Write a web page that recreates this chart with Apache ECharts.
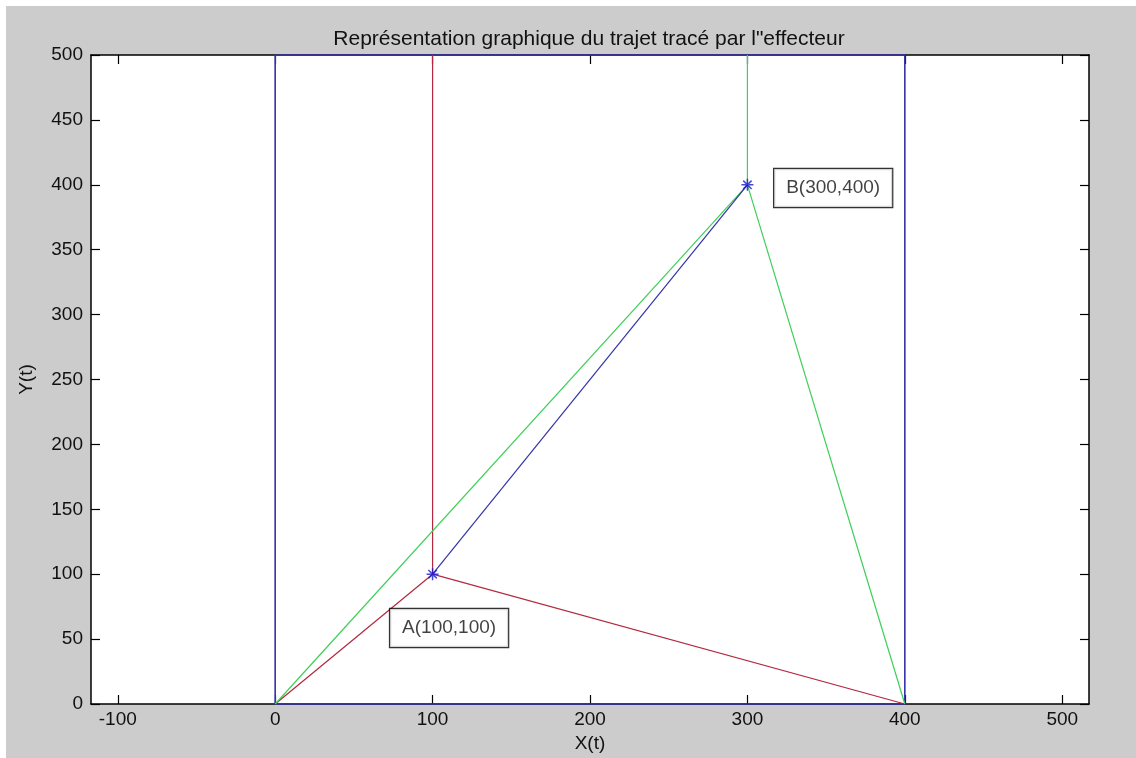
<!DOCTYPE html>
<html>
<head>
<meta charset="utf-8">
<script src="https://cdn.jsdelivr.net/npm/echarts@6/dist/echarts.min.js"></script>
<style>
html,body{margin:0;padding:0;background:#fff;}
#chart{width:1136px;height:758px;}
</style>
</head>
<body>
<div id="chart"></div>
<script>
// ---- data ----
const titleText = 'Représentation graphique du trajet tracé par l"effecteur';
const xTicks = [-100, 0, 100, 200, 300, 400, 500];
const xRange = [-117, 517];
const yRange = [0, 500];
const framePath = [[0, 0], [0, 500], [400, 500], [400, 0], [0, 0]];
const redPath1 = [[100, 500], [100, 100], [0, 0]];
const redPath2 = [[100, 100], [400, 0]];
const greenPath1 = [[300, 500], [300, 400], [0, 0]];
const greenPath2 = [[300, 400], [400, 0]];
const bluePath = [[100, 100], [300, 400]];
const markers = [[100, 100], [300, 400]];
const labelTexts = ['A(100,100)', 'B(300,400)'];
const labelAnchors = [[73, 58.5], [317, 397.5]];

const BLUE = '#3434a8', RED = '#b3283f', GREEN = '#3fcf5a';
const font = 'Liberation Sans, Arial, sans-serif';

function lineSeries(data, color, w) {
  return {
    type: 'line', data: data, showSymbol: false, symbol: 'none', clip: false,
    lineStyle: { color: color, width: w || 1.2 }, xAxisIndex: 0, yAxisIndex: 0,
    silent: true, z: 10, zlevel: 0
  };
}

const chart = echarts.init(document.getElementById('chart'), null, { renderer: 'canvas' });
const tickCommon = { show: true, inside: true, length: 9, lineStyle: { color: '#000', width: 1.2 } };
const lineCommon = { show: true, onZero: false, lineStyle: { color: '#000', width: 1.5 } };

chart.setOption({
  animation: false,
  backgroundColor: '#ffffff',
  graphic: [{
    type: 'rect', left: 6, top: 6, z: -10,
    shape: { width: 1130, height: 752 },
    style: { fill: '#cccccc' }
  }],
  title: {
    text: titleText, left: 584, top: 24, textAlign: 'center',
    textStyle: { fontFamily: font, fontSize: 21, fontWeight: 'normal', color: '#111' }
  },
  grid: { left: 91, top: 55, right: 47, bottom: 53, show: true, backgroundColor: '#ffffff', borderWidth: 0 },
  xAxis: [{
    type: 'value', min: xRange[0], max: xRange[1], position: 'bottom', z: 0,
    name: 'X(t)', nameLocation: 'middle', nameGap: 30,
    nameTextStyle: { fontFamily: font, fontSize: 19, color: '#111' },
    axisLine: lineCommon,
    axisTick: Object.assign({ customValues: xTicks }, tickCommon),
    axisLabel: { customValues: xTicks, fontFamily: font, fontSize: 19, color: '#111', margin: 6 },
    splitLine: { show: false }
  }, {
    type: 'value', min: xRange[0], max: xRange[1], position: 'top', z: 0,
    axisLine: lineCommon,
    axisTick: Object.assign({ customValues: xTicks }, tickCommon),
    axisLabel: { show: false }, splitLine: { show: false }
  }],
  yAxis: [{
    type: 'value', min: yRange[0], max: yRange[1], interval: 50, position: 'left', z: 0,
    name: 'Y(t)', nameLocation: 'middle', nameGap: 55, nameRotate: 90,
    nameTextStyle: { fontFamily: font, fontSize: 19, color: '#111' },
    axisLine: lineCommon, axisTick: tickCommon,
    axisLabel: { fontFamily: font, fontSize: 19, color: '#111', margin: 8 },
    splitLine: { show: false }
  }, {
    type: 'value', min: yRange[0], max: yRange[1], interval: 50, position: 'right', z: 0,
    axisLine: lineCommon, axisTick: tickCommon,
    axisLabel: { show: false }, splitLine: { show: false }
  }],
  series: [
    lineSeries(framePath, BLUE, 1.6),
    lineSeries(redPath1, RED),
    lineSeries(redPath2, RED),
    lineSeries(greenPath1, GREEN),
    lineSeries(greenPath2, GREEN),
    lineSeries(bluePath, BLUE),
    {
      type: 'scatter', data: markers, silent: true, z: 12,
      symbol: 'path://M0,5L10,5M5,0L5,10M1.5,1.5L8.5,8.5M1.5,8.5L8.5,1.5',
      symbolSize: 12,
      itemStyle: { color: 'rgba(0,0,0,0)', borderColor: '#1a1acc', borderWidth: 1.5 }
    },
    {
      type: 'scatter', silent: true, z: 13, symbolSize: 0,
      data: labelAnchors.map((p, i) => ({ value: p, name: labelTexts[i] })),
      label: {
        show: true, position: 'right', distance: 0,
        formatter: p => p.name,
        fontFamily: font, fontSize: 19, color: '#111',
        backgroundColor: '#ffffff', borderColor: '#000', borderWidth: 1.2,
        padding: [10, 12, 9, 12]
      }
    }
  ]
});
</script>
</body>
</html>
